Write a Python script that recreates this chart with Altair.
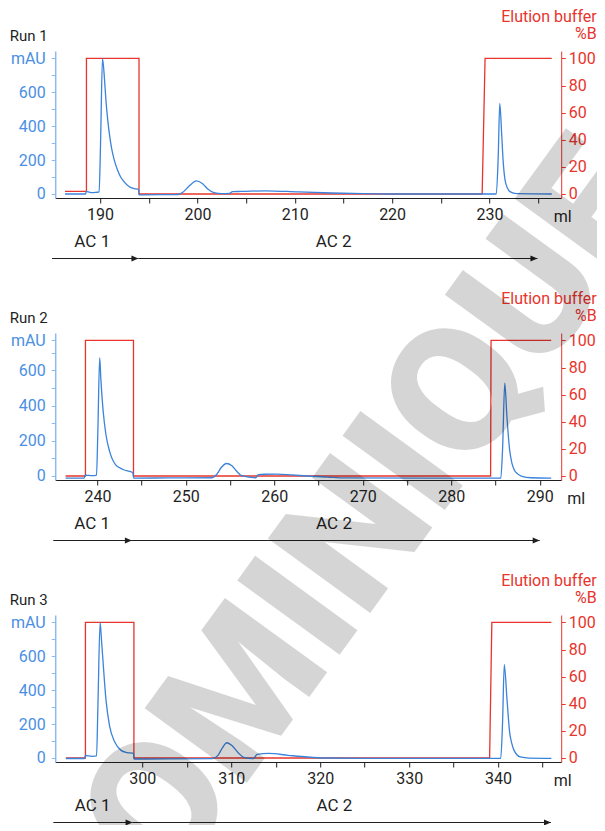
import altair as alt
import pandas as pd

# ---------------- data ----------------
# Run 1
b1_ml = [186.4, 188.5, 188.6, 188.8, 189.2, 189.6, 189.9, 190.05, 190.25, 190.45, 190.6, 190.8,
         190.95, 191.2, 191.46, 191.8, 192.1, 192.5, 193.0, 193.5, 193.95, 194.02, 196.0, 198.0,
         198.5, 199.2, 199.9, 200.5, 201.1, 201.7, 202.5, 203.3, 203.6, 204.5, 207.0, 210.4,
         213.8, 217.0, 220.0, 230.7, 230.9, 231.06, 231.25, 231.4, 231.6, 231.85, 232.1, 232.8, 236.4]
b1_mau = [0, 0, 15, 12, 8, 10, 12, 300, 800, 680, 555, 430,
          358, 265, 200, 140, 102, 70, 43, 32, 27, -5, -4, -3,
          10, 50, 77, 62, 28, 8, 2, 3, 14, 15, 19, 12,
          6, 2, 0, 0, 220, 535, 360, 200, 83, 35, 14, 2, 0]
r1_ml = [186.4, 188.6, 188.6, 194.0, 194.0, 229.25, 229.55, 236.4]
r1_pct = [2, 2, 100, 100, 0, 0, 100, 100]

# Run 2
b2_ml = [236.4, 238.5, 238.6, 239.0, 239.5, 239.9, 240.05, 240.26, 240.39, 240.65, 240.95, 241.39,
         242.04, 242.9, 244.0, 244.1, 248.0, 252.9, 253.5, 254.0, 254.6, 255.2, 255.8, 256.3,
         257.9, 258.2, 259.0, 260.3, 262.0, 263.7, 266.0, 268.0, 285.6, 285.8, 286.05, 286.3,
         286.6, 286.85, 287.1, 287.5, 288.0, 289.0, 291.3]
b2_mau = [-12, -12, 5, 3, 2, 5, 250, 672, 553, 369, 240, 138,
          65, 37, 20, -12, -11, -10, 10, 48, 71, 58, 24, 2,
          -10, 8, 10, 11, 6, 0, -6, -11, -12, 150, 527, 332,
          148, 75, 37, 12, -2, -10, -12]
r2_ml = [236.4, 238.65, 238.65, 244.08, 244.08, 284.45, 284.5, 291.3]
r2_pct = [0, 0, 100, 100, 0, 0, 100, 100]

# Run 3
b3_ml = [291.4, 293.5, 293.6, 293.9, 294.4, 294.85, 295.0, 295.25, 295.4, 295.56, 295.9, 296.3,
         296.9, 297.6, 298.3, 299.0, 299.07, 303.0, 307.9, 308.5, 309.0, 309.5, 310.1, 310.8,
         311.4, 312.5, 312.9, 314.2, 316.4, 318.55, 320.7, 325.0, 340.3, 340.5, 340.7, 341.0,
         341.3, 341.55, 341.8, 342.5, 343.5, 346.0]
b3_mau = [-3, -3, 15, 12, 10, 12, 300, 800, 700, 584, 349, 192,
          94, 45, 32, 27, -6, -5, -4, 15, 60, 90, 72, 30,
          4, -3, 22, 27, 16, 6, 0, -2, -2, 200, 551, 349,
          153, 85, 45, 6, -1, -2]
r3_ml = [291.4, 293.6, 293.6, 299.05, 299.05, 339.05, 339.3, 346.0]
r3_pct = [0, 0, 100, 100, 0, 0, 100, 100]

blue_ml = [b1_ml, b2_ml, b3_ml]
blue_mau = [b1_mau, b2_mau, b3_mau]
red_ml = [r1_ml, r2_ml, r3_ml]
red_pct = [r1_pct, r2_pct, r3_pct]

run_labels = ["Run 1", "Run 2", "Run 3"]
x_domains = [[185.39, 237.37], [235.23, 292.43], [290.2, 347.1]]
x_ticks = [list(range(190, 240, 5)), list(range(240, 295, 5)), list(range(300, 350, 5))]
mau_tops = [800, 770, 800]
pct_ticks = [0, 20, 40, 60, 80, 100]
ac_text = ["AC 1", "AC 2"]
ac_ml = [[189.2, 214.0], [239.4, 266.75], [294.4, 321.6]]
arrow_ml = [[185.07, 193.94, 234.93], [235.01, 243.9, 290.0], [289.99, 298.9, 345.95]]
ml_title_x = [507.0, 520.5, 507.0]
watermark_text = ["DOMINIQUE"]

# ---------------- layout / style ----------------
W, HT = 506, 817            # plot area: full page height, panels placed by scale ranges
PH = 147                    # height of each panel's data rectangle
TOPS = [43, 325, 607]       # top of each panel's data rectangle inside the plot area
LO, HI = -0.0295, 1.0545
FONT = "Roboto"
BLUE = "#3b83db"
BLUE_AX = "#8db9ee"
BLUE_LBL = "#4a8fe3"
RED = "#e8342c"
INK = "#1f1f1f"

layers = []
for i in range(3):
    t = TOPS[i]
    b = t + PH
    top = mau_tops[i]
    xs = alt.Scale(domain=x_domains[i], nice=False, zero=False)
    xaxis = alt.Axis(orient="bottom", offset=-(HT - b), values=x_ticks[i],
                     labelExpr="datum.value % 10 == 0 ? datum.label : ''",
                     title="ml", titleX=ml_title_x[i], titleY=18.5, titleAlign="center",
                     titleBaseline="middle", titleAngle=0, titleColor=INK, titleFontSize=16,
                     titleFontWeight="normal", titleFont=FONT, domainColor=INK, tickColor=INK,
                     labelColor=INK, labelFontSize=16, labelFont=FONT, tickSize=5, labelPadding=3,
                     labelOverlap=False, labelFlush=False, grid=False, domainWidth=1.2)
    xenc = alt.X("ml:Q", scale=xs, axis=xaxis)
    xnone = alt.X("ml:Q", scale=xs, axis=None)

    red = pd.DataFrame({"ml": red_ml[i], "pct": red_pct[i], "i": list(range(len(red_ml[i])))})
    blue = pd.DataFrame({"ml": blue_ml[i], "mau": blue_mau[i]})
    yticks = [v for v in range(0, 800, 100) if v < top - 20] + [top]
    lbl = f"datum.value == {top} ? 'mAU' : (datum.value % 200 == 0 ? datum.label : '')"

    layers.append(alt.Chart(red).mark_line(color=RED, strokeWidth=1.3).encode(
        x=xenc,
        y=alt.Y("pct:Q",
                scale=alt.Scale(domain=[LO * 100, HI * 100], range=[b, t], nice=False, zero=False),
                axis=alt.Axis(orient="right", values=pct_ticks, title=["Elution buffer", "%B"],
                              titleAngle=0, titleAlign="right", titleBaseline="middle",
                              titleX=35, titleY=t - 34.5, titleLineHeight=17, titleColor=RED,
                              titleFontSize=16, titleFontWeight="normal", titleFont=FONT,
                              domainColor=RED, tickColor=RED, labelColor=RED, labelFontSize=16,
                              labelFont=FONT, tickSize=4, labelPadding=3, grid=False,
                              labelOverlap=False)),
        order="i:Q"))
    layers.append(alt.Chart(blue).mark_line(color=BLUE, strokeWidth=1.3, interpolate="monotone").encode(
        x=xnone,
        y=alt.Y("mau:Q",
                scale=alt.Scale(domain=[LO * top, HI * top], range=[b, t], nice=False, zero=False),
                axis=alt.Axis(orient="left", values=yticks, labelExpr=lbl, title=run_labels[i],
                              titleAngle=0, titleAlign="left", titleBaseline="middle",
                              titleX=-46, titleY=t - 16, titleColor=INK, titleFontSize=15,
                              titleFontWeight="normal", titleFont=FONT, domainColor=BLUE_AX,
                              domainWidth=1.5, tickColor=BLUE_AX, labelColor=BLUE_LBL,
                              labelFontSize=16, labelFont=FONT, tickSize=4, labelPadding=6,
                              grid=False, labelOverlap=False))))
    a = arrow_ml[i]
    layers.append(alt.Chart(pd.DataFrame({"ml": [a[0], a[1]], "ml2": [a[1], a[2]]})).mark_rule(
        color=INK, strokeWidth=1.2).encode(x=xnone, x2="ml2:Q", y=alt.value(b + 60.5)))
    layers.append(alt.Chart(pd.DataFrame({"ml": [a[1], a[2]]})).mark_point(
        shape="M0,0L-2,-0.85L-2,0.85Z", filled=True, size=49, color=INK, opacity=1).encode(
        x=xnone, y=alt.value(b + 60.5)))
    layers.append(alt.Chart(pd.DataFrame({"ml": ac_ml[i], "t": ac_text})).mark_text(
        font=FONT, fontSize=17, color=INK, align="center", baseline="middle").encode(
        x=xnone, y=alt.value(b + 44), text="t:N"))

layers.append(alt.Chart(pd.DataFrame({"w": watermark_text})).mark_text(
    font="Roboto", fontWeight=900, fontSize=178, angle=306, align="left",
    baseline="alphabetic", color="#000000", opacity=0.16).encode(
    text="w:N", x=alt.value(46), y=alt.value(975)))

chart = alt.layer(*layers).resolve_scale(x="independent", y="independent").properties(
    width=W, height=HT,
    autosize=alt.AutoSizeParams(type="none"),
    padding={"left": 47.2, "top": 0, "right": 35.8, "bottom": 0}
).configure_view(stroke=None).configure_axis(grid=False)

chart.save("out.html", embed_options={"renderer": "svg", "actions": False})
